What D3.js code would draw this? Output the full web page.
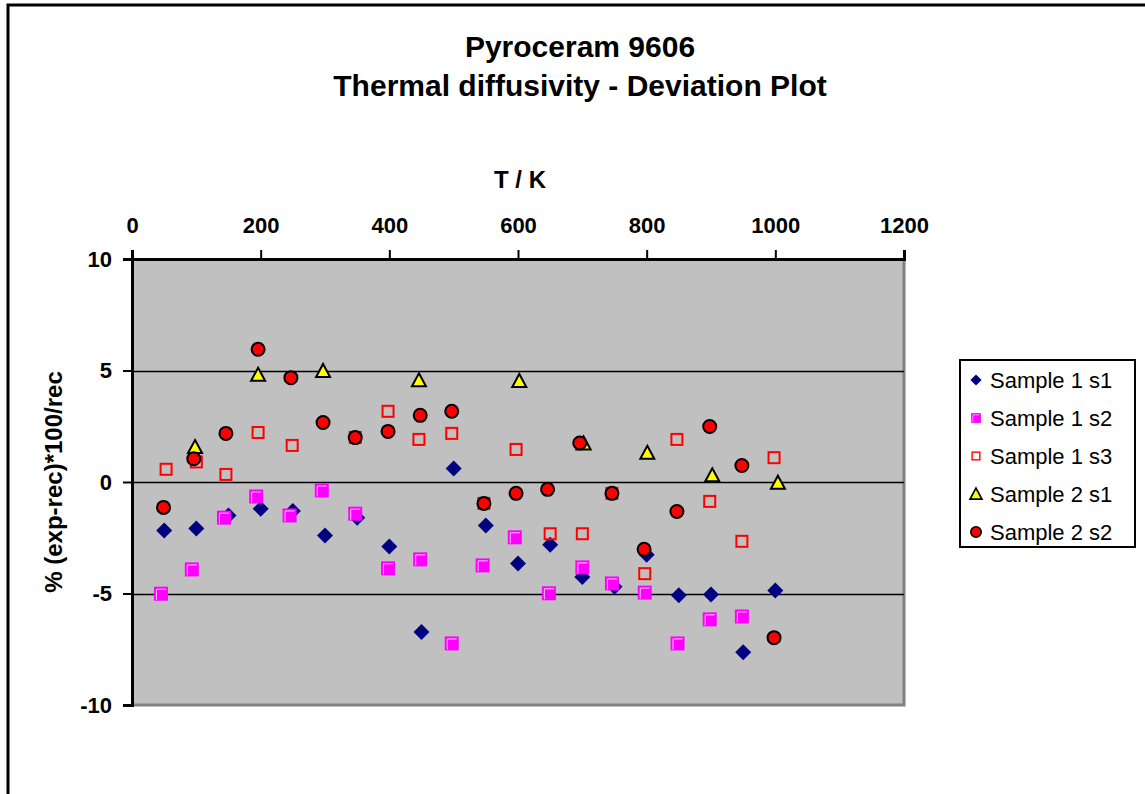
<!DOCTYPE html>
<html>
<head>
<meta charset="utf-8">
<script src="https://cdn.jsdelivr.net/npm/d3@7"></script>
<style>
  body { margin: 0; background: #fff; }
  text { font-family: "Liberation Sans", Arial, sans-serif; }
</style>
</head>
<body>
<svg id="chart" width="1145" height="794"></svg>
<script>
// data: [T in K, deviation in %]
var sample1s1 = [[50,-2.17],[100,-2.08],[150,-1.5],[200,-1.2],[250,-1.3],[300,-2.4],[350,-1.6],[400,-2.89],[450,-6.73],[500,0.6],
                 [550,-1.95],[600,-3.66],[650,-2.81],[700,-4.26],[750,-4.7],[800,-3.26],[850,-5.08],[900,-5.04],[950,-7.64],[1000,-4.86]]
var sample1s2 = [[45,-5.01],[93,-3.92],[143,-1.6],[193,-0.65],[245,-1.5],[295,-0.38],[347,-1.42],[398,-3.87],[448,-3.47],[497,-7.24],
                 [545,-3.74],[595,-2.48],[648,-4.99],[700,-3.83],[746,-4.55],[797,-4.96],[848,-7.24],[898,-6.16],[948,-6.03]]
var sample1s3 = [[53,0.57],[100,0.9],[146,0.34],[196,2.22],[249,1.64],[347,2.0],[398,3.17],[446,1.91],[497,2.18],[547,-0.96],
                 [597,1.46],[650,-2.32],[700,-2.32],[746,-0.51],[797,-4.11],[847,1.91],[898,-0.87],[948,-2.66],[998,1.09]]
var sample2s1 = [[98,1.57],[196,4.81],[297,4.98],[446,4.56],[602,4.53],[702,1.73],[801,1.31],[902,0.3],[1004,-0.03]]
var sample2s2 = [[49,-1.14],[96,1.04],[146,2.18],[196,5.95],[247,4.68],[297,2.67],[347,1.99],[398,2.27],[448,2.99],[497,3.17],
                 [547,-0.96],[597,-0.51],[646,-0.33],[696,1.75],[746,-0.51],[796,-3.02],[847,-1.32],[898,2.49],[948,0.74],[998,-6.98]]

var seriesNames = ["Sample 1 s1", "Sample 1 s2", "Sample 1 s3", "Sample 2 s1", "Sample 2 s2"]
var seriesData = [sample1s1, sample1s2, sample1s3, sample2s1, sample2s2]
var xTicks = [0, 200, 400, 600, 800, 1000, 1200]
var yTicks = [-10, -5, 0, 5, 10]
var gridValues = [-5, 0, 5]

var svg = d3.select("#chart")
var plot = {left: 132, top: 259, right: 904, bottom: 705}

var x = d3.scaleLinear().domain([0, 1200]).range([plot.left, plot.right])
var y = d3.scaleLinear().domain([-10, 10]).range([plot.bottom, plot.top])

// outer chart frame (only top and left edges show)
svg.append("path")
    .attr("d", "M8,795 L8,5 L1146,5")
    .attr("fill", "none")
    .attr("stroke", "#000")
    .attr("stroke-width", 3)

// titles
svg.append("text").attr("x", 580).attr("y", 57).attr("text-anchor", "middle")
    .style("font-size", "30px").style("font-weight", "bold").text("Pyroceram 9606")
svg.append("text").attr("x", 580).attr("y", 96).attr("text-anchor", "middle")
    .style("font-size", "30px").style("font-weight", "bold").text("Thermal diffusivity - Deviation Plot")
svg.append("text").attr("x", 520).attr("y", 188).attr("text-anchor", "middle")
    .style("font-size", "24px").style("font-weight", "bold").text("T / K")
svg.append("text")
    .attr("transform", "translate(62," + ((plot.top + plot.bottom) / 2) + ") rotate(-90)")
    .attr("text-anchor", "middle")
    .style("font-size", "24px").style("font-weight", "bold").text("% (exp-rec)*100/rec")

// plot area
svg.append("rect")
    .attr("x", plot.left).attr("y", plot.top)
    .attr("width", plot.right - plot.left).attr("height", plot.bottom - plot.top)
    .attr("fill", "#c0c0c0")
svg.append("path")
    .attr("d", "M" + plot.right + "," + plot.top + " L" + plot.right + "," + plot.bottom + " L" + plot.left + "," + plot.bottom)
    .attr("fill", "none").attr("stroke", "#808080").attr("stroke-width", 3)

// gridlines
svg.append("g").selectAll("line")
    .data(gridValues)
    .enter().append("line")
    .attr("x1", plot.left).attr("x2", plot.right)
    .attr("y1", function(d) { return Math.round(y(d)) + 0.5 })
    .attr("y2", function(d) { return Math.round(y(d)) + 0.5 })
    .attr("stroke", "#000").attr("stroke-width", 1.3)

// axes - plain hyphen minus and no thousands comma, like the original
var plainFormat = function(d) { return String(d) }

var xAxis = d3.axisTop(x).tickValues(xTicks).tickSize(9).tickPadding(17).tickFormat(plainFormat)
var gx = svg.append("g").attr("transform", "translate(0," + plot.top + ")").call(xAxis)
gx.select(".domain").attr("stroke-width", 3)
gx.selectAll(".tick line").attr("stroke-width", 2)
gx.selectAll("text").style("font-size", "22px").style("font-weight", "bold").attr("fill", "#000")
    .style("font-family", "'Liberation Sans', Arial, sans-serif")

var yAxis = d3.axisLeft(y).tickValues(yTicks).tickSize(9).tickPadding(11).tickFormat(plainFormat)
var gy = svg.append("g").attr("transform", "translate(" + plot.left + ",0)").call(yAxis)
gy.select(".domain").attr("stroke-width", 3)
gy.selectAll(".tick line").attr("stroke-width", 2)
gy.selectAll("text").style("font-size", "22px").style("font-weight", "bold").attr("fill", "#000")
    .style("font-family", "'Liberation Sans', Arial, sans-serif")

// marker drawing per series
function drawMarker(sel, i) {
    if (i == 0) {
        sel.append("path").attr("d", "M0,-8 L8,0 L0,8 L-8,0 Z").attr("fill", "#000080")
    } else if (i == 1) {
        sel.append("rect").attr("x", -7).attr("y", -7).attr("width", 14).attr("height", 14).attr("fill", "#ff00ff")
        sel.append("path").attr("d", "M-4.5,6 L-4.5,-4.5 L5,-4.5").attr("fill", "none")
            .attr("stroke", "#ffc8ff").attr("stroke-width", 1)
    } else if (i == 2) {
        sel.append("rect").attr("x", -5.5).attr("y", -5.5).attr("width", 11).attr("height", 11)
            .attr("fill", "none").attr("stroke", "#ff0000").attr("stroke-width", 2)
    } else if (i == 3) {
        sel.append("path").attr("d", "M0,-7 L7,6 L-7,6 Z").attr("fill", "#ffff00")
            .attr("stroke", "#000").attr("stroke-width", 2).attr("stroke-linejoin", "miter")
    } else {
        sel.append("circle").attr("r", 6.5).attr("fill", "#ff0000")
            .attr("stroke", "#000").attr("stroke-width", 2)
    }
}

seriesData.forEach(function(data, i) {
    var g = svg.append("g")
    g.selectAll("g")
        .data(data)
        .enter().append("g")
        .attr("transform", function(d) { return "translate(" + x(d[0]) + "," + y(d[1]) + ")" })
        .each(function() { drawMarker(d3.select(this), i) })
})

// legend
var legend = svg.append("g")
legend.append("rect")
    .attr("x", 960).attr("y", 360).attr("width", 175).attr("height", 187)
    .attr("fill", "#fff").attr("stroke", "#000").attr("stroke-width", 2)
var legendItem = legend.selectAll("g")
    .data(seriesNames)
    .enter().append("g")
    .attr("transform", function(d, i) { return "translate(976," + (380 + i * 38) + ")" })
legendItem.each(function(d, i) {
    var m = d3.select(this).append("g").attr("transform", i == 3 ? "scale(0.85)" : (i == 4 ? "scale(0.8)" : "scale(0.7)"))
    drawMarker(m, i)
})
legendItem.append("text")
    .attr("x", 14).attr("dy", "0.35em")
    .style("font-size", "22px")
    .text(function(d) { return d })
</script>
</body>
</html>
